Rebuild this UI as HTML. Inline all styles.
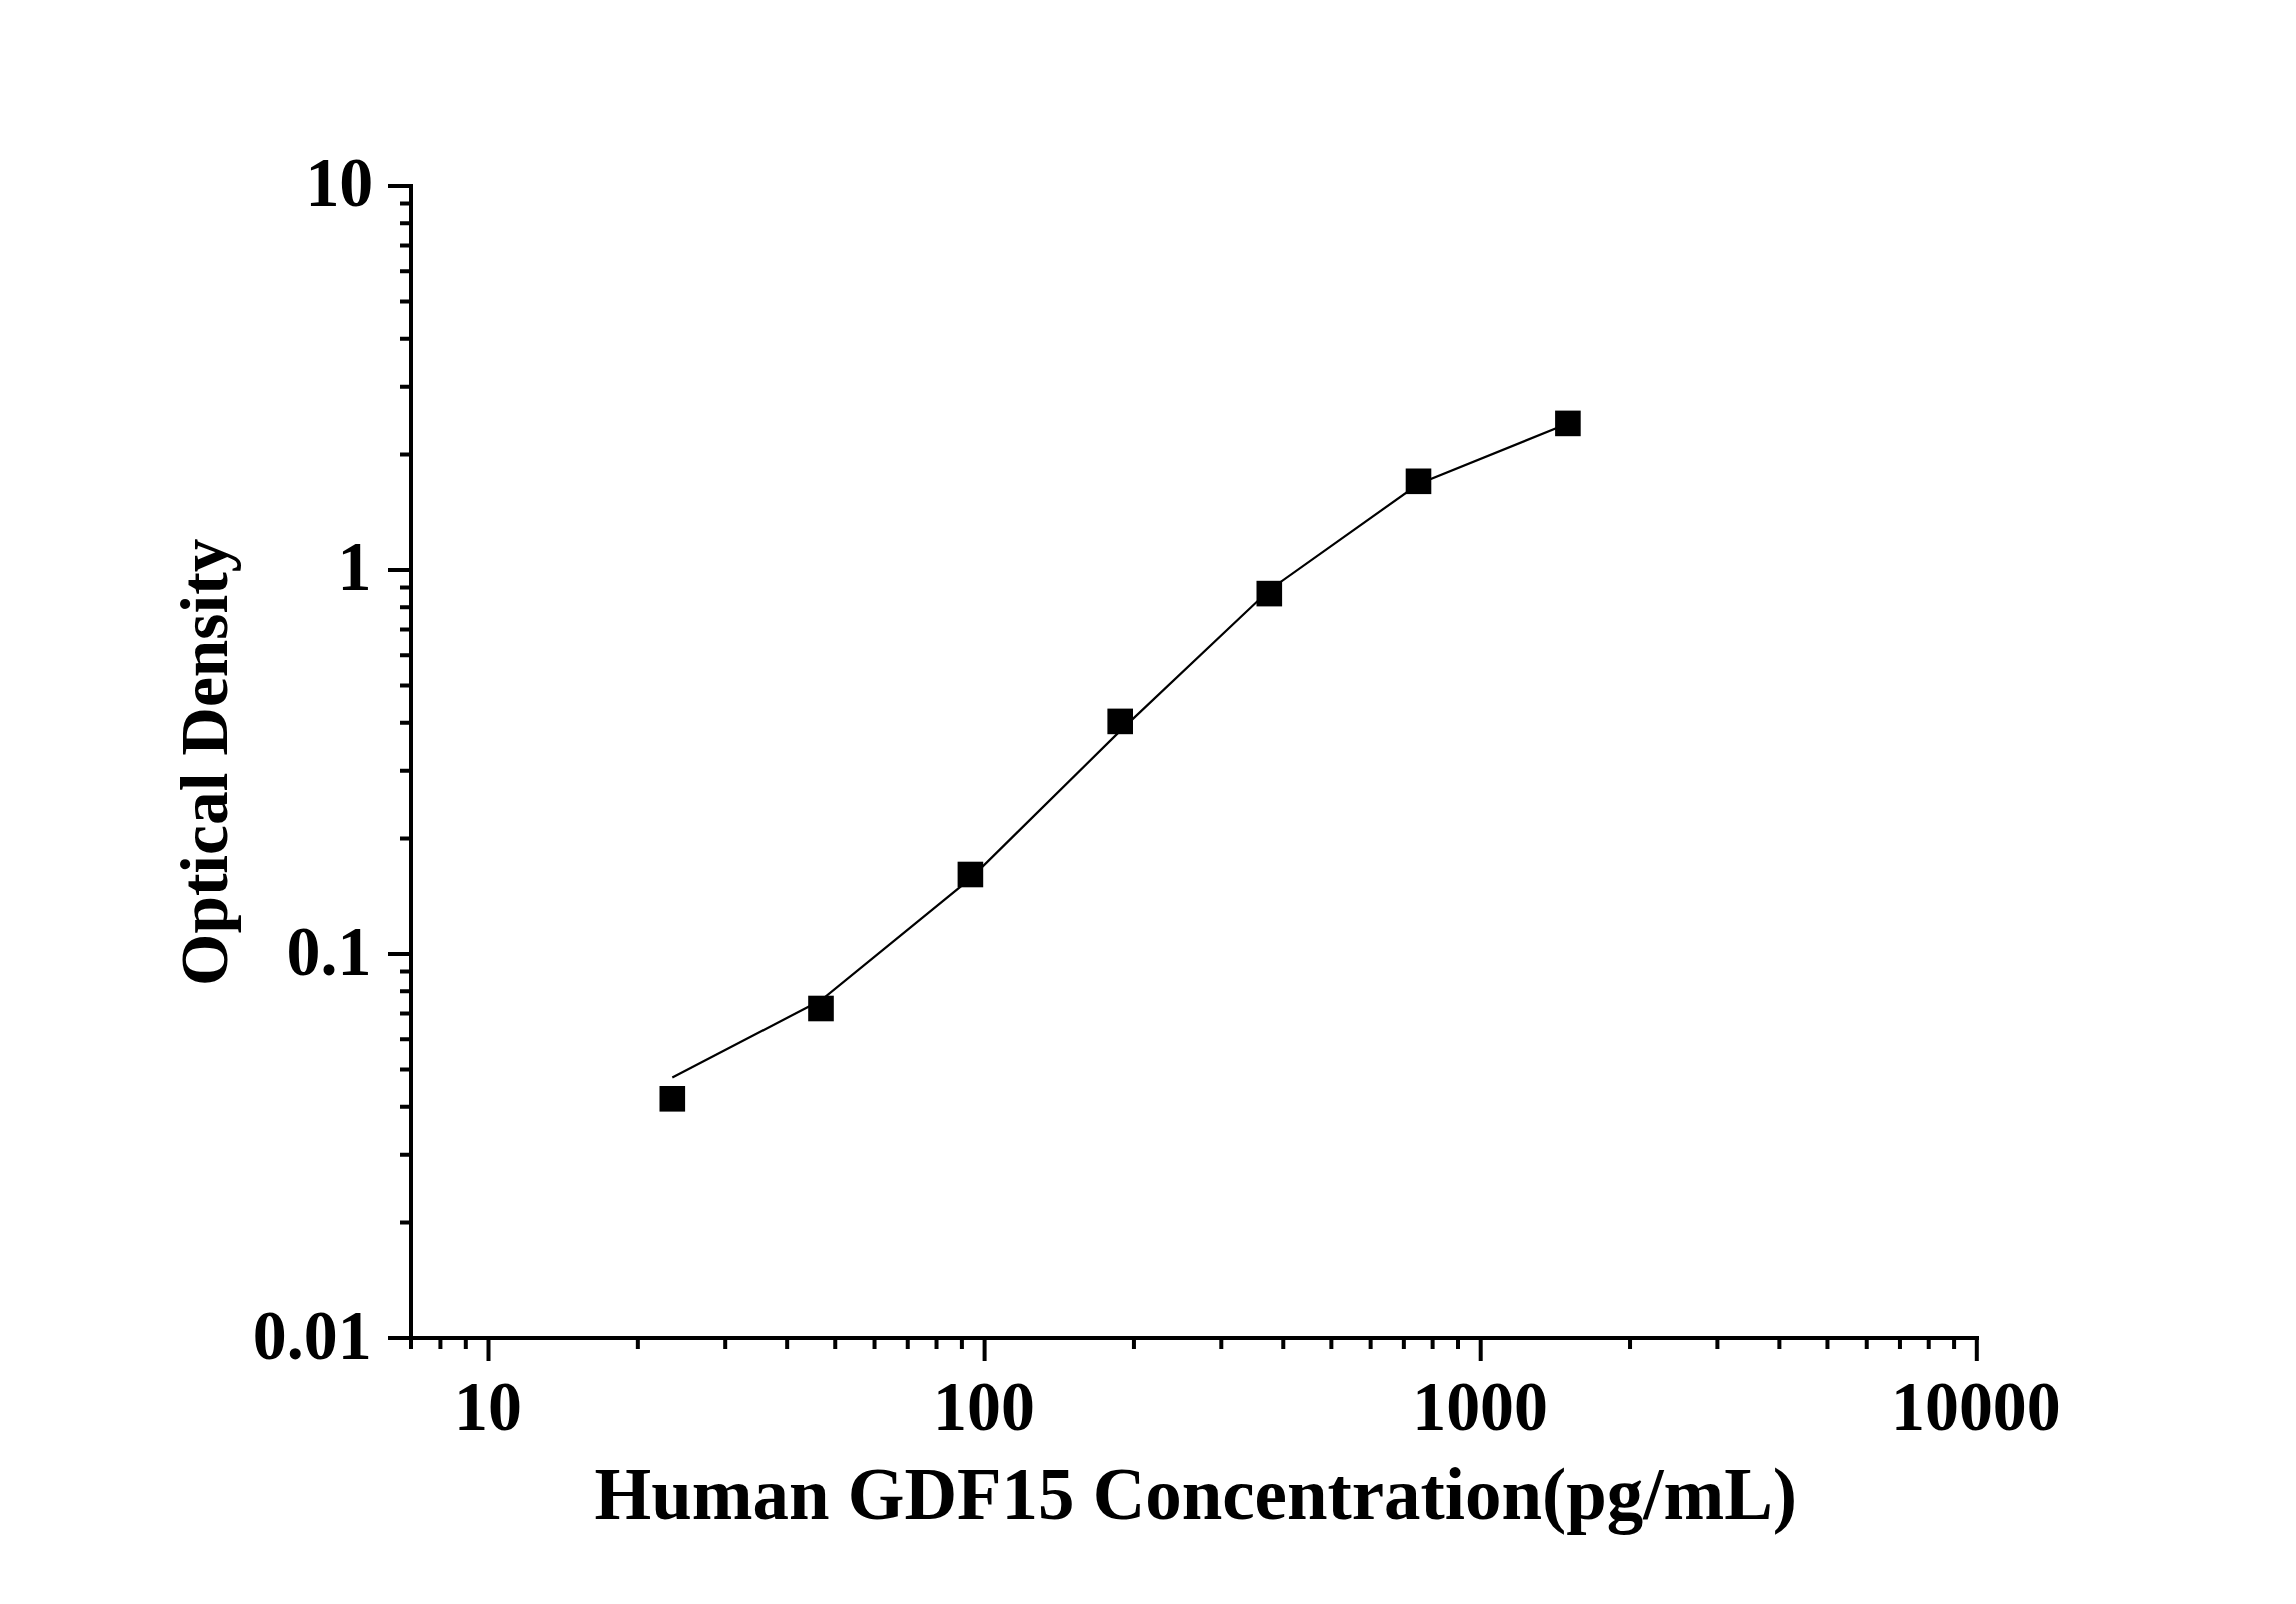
<!DOCTYPE html>
<html><head><meta charset="utf-8"><style>
html,body{margin:0;padding:0;background:#fff;}
body{width:2296px;height:1604px;overflow:hidden;}
svg{display:block;}
text{font-family:"Liberation Serif",serif;font-weight:bold;fill:#000;}
</style></head><body>
<svg width="2296" height="1604" viewBox="0 0 2296 1604">
<rect width="2296" height="1604" fill="#fff"/>
<path d="M411,184V1340 M388,1338H1979 M388,186.00H411 M388,570.00H411 M388,954.00H411 M400,1222.40H411 M400,1154.79H411 M400,1106.81H411 M400,1069.60H411 M400,1039.19H411 M400,1013.48H411 M400,991.21H411 M400,971.57H411 M400,838.40H411 M400,770.79H411 M400,722.81H411 M400,685.60H411 M400,655.19H411 M400,629.48H411 M400,607.21H411 M400,587.57H411 M400,454.40H411 M400,386.79H411 M400,338.81H411 M400,301.60H411 M400,271.19H411 M400,245.48H411 M400,223.21H411 M400,203.57H411 M488.50,1338V1361 M984.60,1338V1361 M1480.70,1338V1361 M1976.80,1338V1361 M411.00,1338V1349 M440.42,1338V1349 M465.80,1338V1349 M637.84,1338V1349 M725.20,1338V1349 M787.18,1338V1349 M835.26,1338V1349 M874.54,1338V1349 M907.75,1338V1349 M936.52,1338V1349 M961.90,1338V1349 M1133.94,1338V1349 M1221.30,1338V1349 M1283.28,1338V1349 M1331.36,1338V1349 M1370.64,1338V1349 M1403.85,1338V1349 M1432.62,1338V1349 M1458.00,1338V1349 M1630.04,1338V1349 M1717.40,1338V1349 M1779.38,1338V1349 M1827.46,1338V1349 M1866.74,1338V1349 M1899.95,1338V1349 M1928.72,1338V1349 M1954.10,1338V1349" stroke="#000" stroke-width="4" fill="none"/>
<polyline points="672.3,1077.4 821.0,1000.3 970.4,878.6 1120.2,730.9 1269.3,590.0 1418.5,484.0 1567.9,423.5" stroke="#000" stroke-width="2.2" fill="none" stroke-linejoin="miter" stroke-linecap="butt"/>
<g fill="#000">
<rect x="659.50" y="1086.00" width="25.6" height="25.6"/>
<rect x="808.20" y="995.70" width="25.6" height="25.6"/>
<rect x="957.60" y="861.70" width="25.6" height="25.6"/>
<rect x="1107.40" y="708.60" width="25.6" height="25.6"/>
<rect x="1256.50" y="580.80" width="25.6" height="25.6"/>
<rect x="1405.70" y="468.50" width="25.6" height="25.6"/>
<rect x="1555.10" y="410.60" width="25.6" height="25.6"/>
</g>
<text transform="translate(305.40,205.80) scale(0.9700,1.0100)" font-size="70">10</text>
<text transform="translate(337.60,589.60) scale(0.9700,1.0100)" font-size="70">1</text>
<text transform="translate(286.60,975.20) scale(0.9700,1.0100)" font-size="70">0.1</text>
<text transform="translate(252.80,1358.60) scale(0.9700,1.0100)" font-size="70">0.01</text>
<text transform="translate(454.00,1429.60) scale(0.9700,1.0100)" font-size="70">10</text>
<text transform="translate(933.10,1429.80) scale(0.9700,1.0100)" font-size="70">100</text>
<text transform="translate(1412.20,1429.80) scale(0.9700,1.0100)" font-size="70">1000</text>
<text transform="translate(1891.00,1430.00) scale(0.9700,1.0100)" font-size="70">10000</text>
<text transform="translate(594.60,1519.12) scale(0.9719,0.9970)" font-size="75">Human GDF15 Concentration(pg/mL)</text>
<text transform="translate(227.43,985.97) rotate(-90) scale(0.9911,0.9905)" font-size="68">Optical Density</text>
</svg>
</body></html>
